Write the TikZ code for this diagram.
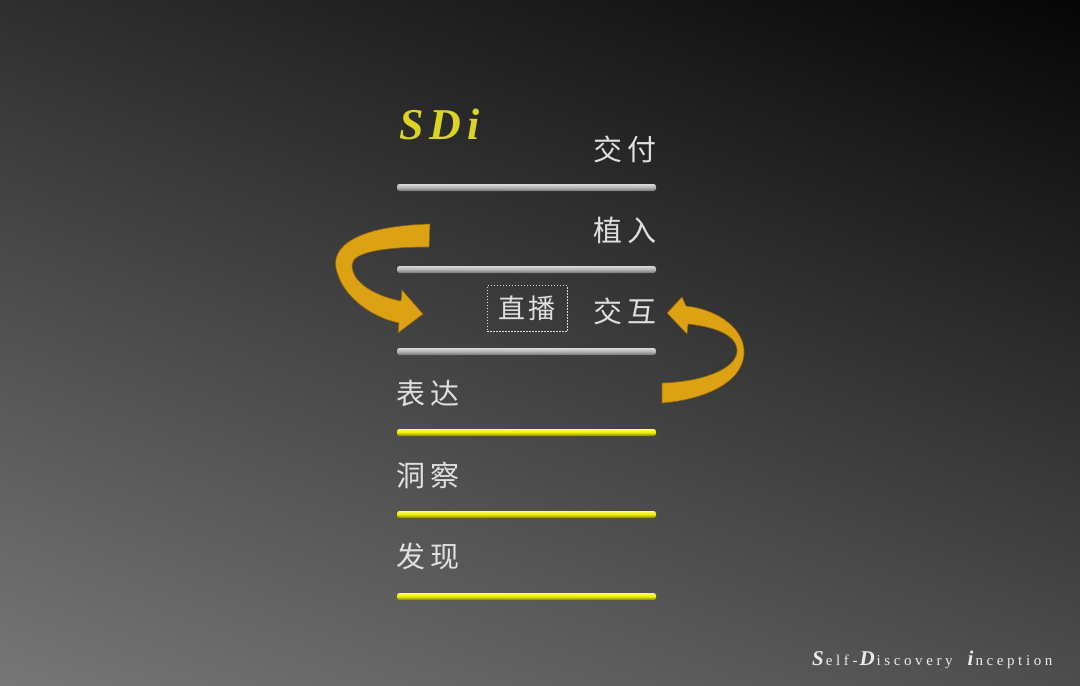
\documentclass[tikz,border=0pt]{standalone}
\usepackage{fontspec}
\setmainfont{Liberation Serif}
\newfontfamily\cjk{Noto Sans CJK SC}
\makeatletter
\def\myls#1#2{\def\myls@k{\kern#1}\myls@b#2\@nil}
\def\myls@b#1{#1\myls@a}
\def\myls@a#1{\ifx#1\@nil\else\myls@k#1\expandafter\myls@a\fi}
\makeatother
\definecolor{bgdark}{RGB}{4,4,4}
\definecolor{bglight}{RGB}{120,120,120}
\definecolor{txt}{RGB}{224,224,224}
\definecolor{gold}{RGB}{220,162,20}
\definecolor{golddark}{RGB}{140,100,10}
\definecolor{sdiy}{RGB}{218,212,36}
\tikzset{
  label/.style={inner sep=0pt, text=txt, font=\cjk\fontsize{29}{29}\selectfont},
  graybar/.style={rounded corners=2.5pt, top color=white!85!black, bottom color=black!55, middle color=black!30},
  yellowbar/.style={rounded corners=2.5pt, top color=yellow!60!white, bottom color=yellow!50!black, middle color=yellow!92!black},
  ribbon/.style={fill=gold, draw=golddark, line width=0.6pt, line join=round},
  boxed/.style={draw=white!85!black, dashed, dash pattern=on 1.5pt off 1.5pt, line width=0.6pt, inner sep=0pt, minimum width=80pt, minimum height=46pt, text=txt, font=\cjk\fontsize{27}{27}\selectfont}
}
\begin{document}
\begin{tikzpicture}[x=1pt,y=-1pt]
\useasboundingbox (0,0) rectangle (1080,686);
\fill[black!70] (0,0) rectangle (1080,686);
\begin{scope}
  \clip (0,0) rectangle (1080,686);
  \begin{scope}[transform canvas={shift={(540,343)}, rotate=-20}]
    \shade[top color=bgdark, bottom color=bglight] (-800,-520) rectangle (800,520);
  \end{scope}
\end{scope}

% bars
\shade[graybar] (397,184) rectangle (656,191);
\shade[graybar] (397,266) rectangle (656,273);
\shade[graybar] (397,348) rectangle (656,355);
\shade[yellowbar] (397,429) rectangle (656,436);
\shade[yellowbar] (397,511) rectangle (656,518);
\shade[yellowbar] (397,593) rectangle (656,600);

% title
\node[anchor=base west, inner sep=0pt, text=sdiy, font=\fontsize{44}{44}\selectfont\bfseries\itshape] (sdi) at (399,139) {\myls{6pt}{SDi}};

% labels
\node[label, anchor=east] (jiaofu) at (657,149) {\myls{5pt}{交付}};
\node[label, anchor=east] (zhiru) at (657,230) {\myls{5pt}{植入}};
\node[label, anchor=east] (jiaohu) at (657,311) {\myls{5pt}{交互}};
\node[boxed] (zhibo) at (527,308.5) {\myls{3pt}{直播}};
\node[label, anchor=west] (biaoda) at (396,393) {\myls{5pt}{表达}};
\node[label, anchor=west] (dongcha) at (396,475) {\myls{5pt}{洞察}};
\node[label, anchor=west] (faxian) at (396,556) {\myls{5pt}{发现}};

% left curved arrow
\filldraw[ribbon] (430,224) .. controls (360,226) and (328,245) .. (337,272)
  .. controls (345,300) and (375,318) .. (399,323) -- (398,333) -- (423,314) -- (402,290) -- (401,301)
  .. controls (380,297) and (352,285) .. (352,265)
  .. controls (352,252) and (385,247) .. (429,247) -- cycle;

% right curved arrow
\filldraw[ribbon] (662,383) .. controls (700,382) and (735,370) .. (737,352)
  .. controls (738,335) and (715,327) .. (688,324) -- (687,334) -- (667,313) -- (682,297) -- (686,306)
  .. controls (720,310) and (746,330) .. (744,355)
  .. controls (741,385) and (700,400) .. (662,403) -- cycle;

% footer
\node[anchor=base west, inner sep=0pt, text=white!92!black] (footer) at (812,665)
  {{\fontsize{21}{21}\selectfont\bfseries\itshape S}\kern2pt{\fontsize{15}{15}\selectfont\myls{3.6pt}{elf-}}\kern2pt{\fontsize{21}{21}\selectfont\bfseries\itshape D}\kern2pt{\fontsize{15}{15}\selectfont\myls{3.6pt}{iscovery}}\kern15pt{\fontsize{21}{21}\selectfont\bfseries\itshape i}\kern2pt{\fontsize{15}{15}\selectfont\myls{3.6pt}{nception}}};
\end{tikzpicture}
\end{document}
